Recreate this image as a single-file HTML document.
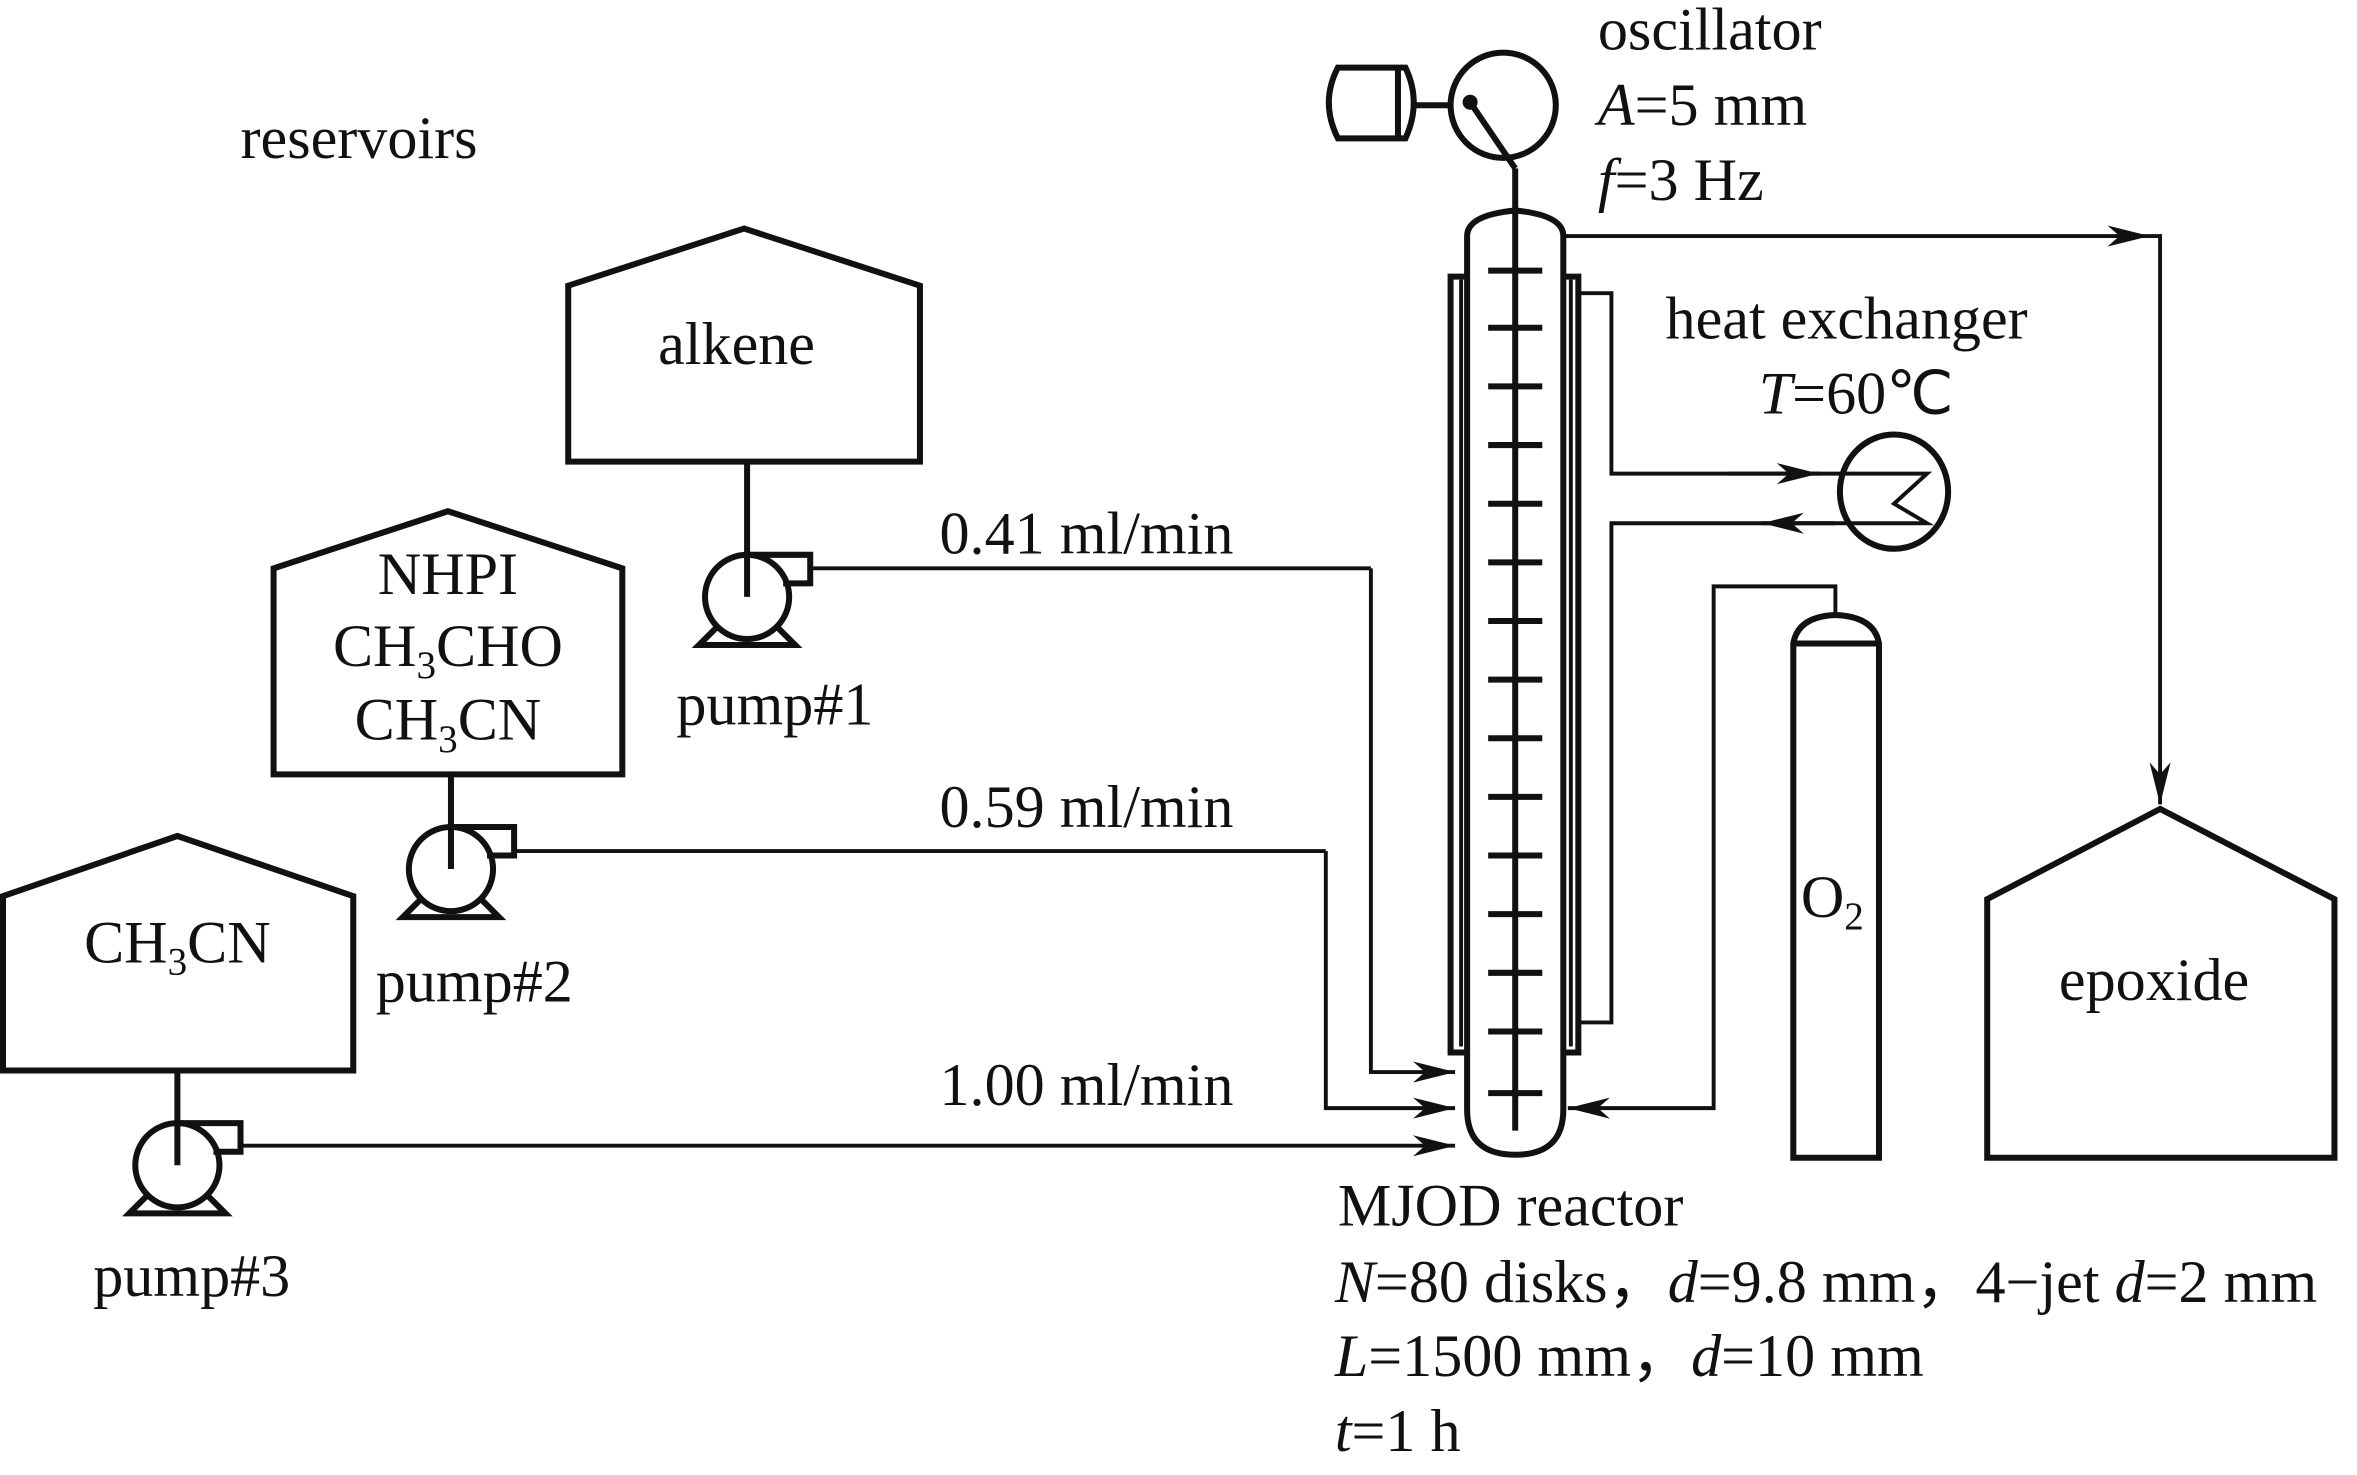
<!DOCTYPE html>
<html><head><meta charset="utf-8"><style>
html,body{margin:0;padding:0;background:#fff}
svg{display:block}
text{font-family:"Liberation Serif",serif;font-size:40px;fill:#111}
.t{stroke:#111;stroke-width:2.6;fill:none}
.k{stroke:#111;stroke-width:4;fill:none}
</style></head><body>
<svg width="2357" height="1475" viewBox="0 0 1568 981" preserveAspectRatio="none" xmlns="http://www.w3.org/2000/svg">
<defs>
<marker id="b" markerWidth="28" markerHeight="14" refX="28" refY="7" orient="auto" markerUnits="userSpaceOnUse" viewBox="0 0 28 14">
<path d="M0,0 L28,7 L0,14 L8,7 Z" fill="#111"/></marker>
</defs>

<text x="160" y="105">reservoirs</text>

<!-- alkene -->
<path class="k" d="M378,190 L495,152 L612,190 L612,307 L378,307 Z"/>
<text x="490" y="242" text-anchor="middle">alkene</text>
<line class="k" x1="497" y1="307" x2="497" y2="397"/>
<g transform="translate(497,397)">
<circle class="k" cx="0" cy="0" r="28"/>
<path class="k" d="M0,-28 H42 V-9 H24"/>
<path class="k" d="M-20,20 L-32,32 H32 L20,20" />
</g>
<line class="t" x1="539" y1="378" x2="912" y2="378"/>
<polyline class="t" points="912,378 912,713 968,713" marker-end="url(#b)"/>
<text x="625" y="368">0.41 ml/min</text>
<text x="450" y="482">pump#1</text>

<!-- NHPI -->
<path class="k" d="M182,378 L298,340 L414,378 L414,515 L182,515 Z"/>
<text x="298" y="395" text-anchor="middle">NHPI</text>
<text x="298" y="443" text-anchor="middle">CH<tspan font-size="26" dy="8">3</tspan><tspan dy="-8">CHO</tspan></text>
<text x="298" y="492" text-anchor="middle">CH<tspan font-size="26" dy="8">3</tspan><tspan dy="-8">CN</tspan></text>
<line class="k" x1="300" y1="515" x2="300" y2="578"/>
<g transform="translate(300,578)">
<circle class="k" cx="0" cy="0" r="28"/>
<path class="k" d="M0,-28 H42 V-9 H24"/>
<path class="k" d="M-20,20 L-32,32 H32 L20,20"/>
</g>
<line class="t" x1="342" y1="566" x2="882" y2="566"/>
<polyline class="t" points="882,566 882,737 968,737" marker-end="url(#b)"/>
<text x="625" y="550">0.59 ml/min</text>
<text x="250" y="666">pump#2</text>

<!-- CH3CN -->
<path class="k" d="M2,596 L118,556 L235,596 L235,712 L2,712 Z"/>
<text x="118" y="640" text-anchor="middle">CH<tspan font-size="26" dy="8">3</tspan><tspan dy="-8">CN</tspan></text>
<line class="k" x1="118" y1="712" x2="118" y2="775"/>
<g transform="translate(118,775)">
<circle class="k" cx="0" cy="0" r="28"/>
<path class="k" d="M0,-28 H42 V-9 H24"/>
<path class="k" d="M-20,20 L-32,32 H32 L20,20"/>
</g>
<line class="t" x1="160" y1="762" x2="968" y2="762" marker-end="url(#b)"/>
<text x="625" y="735">1.00 ml/min</text>
<text x="62" y="862">pump#3</text>

<!-- reactor -->
<path class="k" d="M976,157 Q976,143 1008,140 Q1040,143 1040,157 L1040,738 Q1040,768 1008,768 Q976,768 976,738 Z"/>
<line class="k" x1="1008" y1="112" x2="1008" y2="752"/>
<g class="k">
<line x1="990" y1="180" x2="1026" y2="180"/><line x1="990" y1="218" x2="1026" y2="218"/>
<line x1="990" y1="257" x2="1026" y2="257"/><line x1="990" y1="296" x2="1026" y2="296"/>
<line x1="990" y1="335" x2="1026" y2="335"/><line x1="990" y1="374" x2="1026" y2="374"/>
<line x1="990" y1="413" x2="1026" y2="413"/><line x1="990" y1="452" x2="1026" y2="452"/>
<line x1="990" y1="491" x2="1026" y2="491"/><line x1="990" y1="530" x2="1026" y2="530"/>
<line x1="990" y1="569" x2="1026" y2="569"/><line x1="990" y1="608" x2="1026" y2="608"/>
<line x1="990" y1="647" x2="1026" y2="647"/><line x1="990" y1="686" x2="1026" y2="686"/>
<line x1="990" y1="727" x2="1026" y2="727"/>
</g>
<path class="k" d="M976,184 H965 V700 H976"/>
<path class="t" d="M972,186 V696"/>
<path class="k" d="M1040,184 H1050 V700 H1040"/>
<path class="t" d="M1045,186 V696"/>
<!-- heat exchanger loop -->
<polyline class="t" points="1050,195 1072,195 1072,315 1282,315 1260,335 1282,348 1072,348 1072,680 1050,680"/>
<line class="t" x1="1150" y1="315" x2="1210" y2="315" marker-end="url(#b)"/>
<line class="t" x1="1220" y1="348" x2="1172" y2="348" marker-end="url(#b)"/>
<ellipse class="k" cx="1260" cy="327" rx="36" ry="38"/>
<text x="1108" y="225">heat exchanger</text>
<text x="1170" y="275"><tspan font-style="italic">T</tspan>=60℃</text>

<!-- oscillator -->
<circle class="k" cx="1000" cy="70" r="35"/>
<path class="k" d="M890,45 H935 Q946,68 935,92 H890 Q878,68 890,45 Z"/>
<line class="k" x1="930" y1="46" x2="930" y2="92"/>
<line class="k" x1="940" y1="70" x2="965" y2="70"/>
<circle cx="978" cy="68" r="5" fill="#111"/>
<polyline class="k" points="978,68 1008,112"/>
<text x="1063" y="33">oscillator</text>
<text x="1063" y="83"><tspan font-style="italic">A</tspan>=5 mm</text>
<text x="1063" y="133"><tspan font-style="italic">f</tspan>=3 Hz</text>

<!-- to epoxide -->
<line class="t" x1="1040" y1="157" x2="1430" y2="157" marker-end="url(#b)"/>
<polyline class="t" points="1430,157 1437,157 1437,535" marker-end="url(#b)"/>
<path class="k" d="M1322,598 L1437,538 L1553,598 L1553,770 L1322,770 Z"/>
<text x="1433" y="665" text-anchor="middle">epoxide</text>

<!-- O2 -->
<path class="k" d="M1193,770 V428 Q1196,410 1221,409 Q1247,410 1250,428 V770 Z"/>
<line class="k" x1="1193" y1="428" x2="1250" y2="428"/>
<polyline class="t" points="1221,409 1221,390 1140,390 1140,737 1043,737" marker-end="url(#b)"/>
<text x="1198" y="610">O<tspan font-size="26" dy="8">2</tspan></text>

<!-- reactor text -->
<text x="890" y="815">MJOD reactor</text>
<text x="888" y="866"><tspan font-style="italic">N</tspan>=80 disks，<tspan font-style="italic">d</tspan>=9.8 mm，4−jet <tspan font-style="italic">d</tspan>=2 mm</text>
<text x="888" y="915"><tspan font-style="italic">L</tspan>=1500 mm，<tspan font-style="italic">d</tspan>=10 mm</text>
<text x="888" y="965"><tspan font-style="italic">t</tspan>=1 h</text>
</svg>
</body></html>
